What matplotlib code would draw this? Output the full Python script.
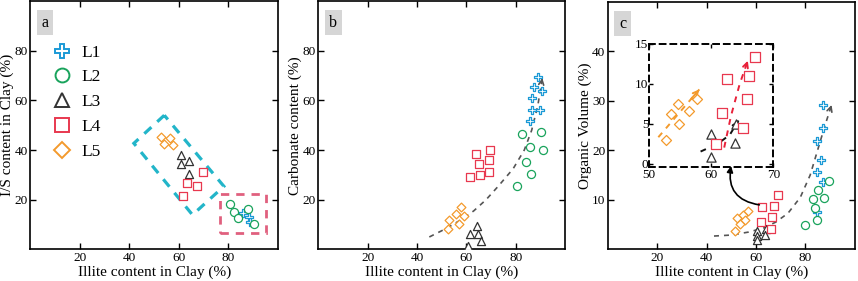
import matplotlib
matplotlib.use("Agg")
import matplotlib.pyplot as plt
from matplotlib.patches import Polygon, Rectangle
import numpy as np

plt.rcParams['font.family'] = ['Liberation Serif', 'DejaVu Serif']

# ---------------- data ----------------
groups = ["L1", "L2", "L3", "L4", "L5"]
colors = {"L1": "#1b9ad6", "L2": "#19a35c", "L3": "#333333", "L4": "#e8384f", "L5": "#f39a2c"}
markers = {"L1": "P", "L2": "o", "L3": "^", "L4": "s", "L5": "D"}
msize = {"L1": 40, "L2": 34, "L3": 34, "L4": 36, "L5": 20}

# Panel a: Illite (x) vs I/S (y)
a_L1_x = [85.8, 88.5, 88.8]
a_L1_y = [14.5, 13.0, 11.0]
a_L2_x = [80.6, 82.3, 84.0, 88.0, 90.4]
a_L2_y = [18.2, 15.2, 12.5, 16.4, 10.3]
a_L3_x = [60.8, 60.8, 64.2, 64.2]
a_L3_y = [38.0, 34.5, 35.5, 30.3]
a_L4_x = [69.7, 63.2, 67.3, 61.6]
a_L4_y = [31.2, 26.6, 25.4, 21.3]
a_L5_x = [52.7, 56.4, 54.1, 57.7]
a_L5_y = [45.2, 45.0, 42.3, 41.9]
a_box1_x = [54.1, 41.8, 65.5, 78.2]      # rotated dashed box corners
a_box1_y = [54.0, 42.7, 13.9, 25.4]
a_box2 = [76.8, 6.5, 95.4, 22.3]          # x0, y0, x1, y1

# Panel b: Illite (x) vs Carbonate (y)
b_L1_x = [88.9, 87.4, 90.7, 86.6, 86.7, 89.8, 85.7]
b_L1_y = [69.5, 65.5, 63.6, 61.0, 56.3, 56.3, 51.5]
b_L2_x = [82.6, 90.2, 85.7, 90.9, 84.0, 86.4, 80.6]
b_L2_y = [46.4, 47.2, 41.2, 40.0, 35.0, 30.2, 25.4]
b_L3_x = [64.2, 61.5, 64.8, 65.9, 60.8]
b_L3_y = [9.5, 6.0, 6.0, 3.5, 1.4]
b_L4_x = [63.8, 69.7, 65.0, 69.3, 65.4, 69.0, 61.6]
b_L4_y = [38.5, 40.2, 34.5, 35.8, 29.8, 31.3, 29.2]
b_L5_x = [57.7, 55.7, 59.0, 52.8, 56.9, 52.7]
b_L5_y = [17.2, 14.2, 13.4, 11.8, 10.4, 8.3]
b_trend_x = [45, 52, 58, 63, 68, 73, 79, 83.5, 86.5, 89, 90.8]
b_trend_y = [5, 8.5, 12, 15.5, 20, 25.5, 32.5, 40, 48, 58, 69]

# Panel c: Illite (x) vs Organic volume (y)
c_L1_x = [87.3, 87.1, 84.6, 86.4, 84.6, 87.1, 84.9]
c_L1_y = [29.2, 24.5, 22.0, 18.0, 15.7, 13.7, 7.6]
c_L2_x = [89.7, 85.3, 83.3, 87.6, 83.9, 84.9, 79.9]
c_L2_y = [13.8, 12.0, 10.1, 10.3, 8.3, 6.0, 4.9]
c_L3_x = [60.5, 64.1, 60.3, 63.7, 60.5]
c_L3_y = [3.7, 4.1, 2.7, 2.9, 1.9]
c_L4_x = [69.1, 62.3, 67.3, 66.6, 62.0, 66.0]
c_L4_y = [10.9, 8.5, 8.8, 6.6, 5.5, 4.1]
c_L5_x = [56.9, 54.6, 52.4, 55.6, 53.5, 51.4]
c_L5_y = [7.7, 7.0, 6.3, 6.0, 5.2, 3.8]
c_trend_x = [43, 50, 57, 63, 68, 73, 78, 82, 85, 88, 90.7]
c_trend_y = [2.7, 2.9, 3.5, 4.3, 5.5, 7.3, 10.5, 15, 20, 25, 29.2]

# Inset of panel c (zoom 50-70, 0-15)
i_L3_x = [59.9, 59.9, 63.8, 64.0]
i_L3_y = [3.7, 0.8, 2.6, 4.9]
i_L4_x = [62.5, 66.1, 67.0, 61.8, 65.8, 65.1, 60.7]
i_L4_y = [10.6, 11.0, 13.4, 6.4, 8.1, 4.4, 2.4]
i_L5_x = [52.7, 53.5, 54.6, 54.9, 56.4, 57.7]
i_L5_y = [2.9, 6.2, 7.5, 5.0, 6.6, 8.1]
i_orange_x = [51.5, 58.1]
i_orange_y = [3.3, 9.3]
i_red_x = [62.1, 63.2, 64.6, 65.9]
i_red_y = [2.0, 6.0, 10.0, 12.9]
i_black_x = [58.3, 61.1, 63.0, 64.4]
i_black_y = [1.5, 2.5, 3.6, 5.4]

data = {
    "a": {"L1": (a_L1_x, a_L1_y), "L2": (a_L2_x, a_L2_y), "L3": (a_L3_x, a_L3_y),
          "L4": (a_L4_x, a_L4_y), "L5": (a_L5_x, a_L5_y)},
    "b": {"L1": (b_L1_x, b_L1_y), "L2": (b_L2_x, b_L2_y), "L3": (b_L3_x, b_L3_y),
          "L4": (b_L4_x, b_L4_y), "L5": (b_L5_x, b_L5_y)},
    "c": {"L1": (c_L1_x, c_L1_y), "L2": (c_L2_x, c_L2_y), "L3": (c_L3_x, c_L3_y),
          "L4": (c_L4_x, c_L4_y), "L5": (c_L5_x, c_L5_y)},
}

# ---------------- figure ----------------
W, H = 858, 281
fig = plt.figure(figsize=(W / 100, H / 100), dpi=100)

def frac(l, r, t, b):
    return [l / W, 1 - b / H, (r - l) / W, (b - t) / H]

ax_a = fig.add_axes(frac(30.5, 277.8, 1, 249.4))
ax_b = fig.add_axes(frac(318.3, 565.0, 1, 249.4))
ax_c = fig.add_axes(frac(608.0, 854.5, 2, 249.4))

def style(ax, ylim, yticks, ylabel, letter):
    ax.set_xlim(0, 100)
    ax.set_ylim(*ylim)
    ax.set_xticks([20, 40, 60, 80])
    ax.set_yticks(yticks)
    ax.tick_params(direction="in", top=True, right=True, length=4, width=1,
                   labelsize=9.5, pad=2)
    for s in ax.spines.values():
        s.set_linewidth(1.2)
    ax.set_xlabel("Illite content in Clay (%)", fontsize=11, labelpad=1)
    ax.set_ylabel(ylabel, fontsize=11, labelpad=0)
    ax.text(0.045, 0.945, letter, transform=ax.transAxes, fontsize=11.5, va="top", ha="left",
            bbox=dict(boxstyle="square,pad=0.3", fc="#d6d6d6", ec="none"))

def scatter_all(ax, d):
    for g in groups:
        x, y = d[g]
        ax.scatter(x, y, s=msize[g], marker=markers[g], facecolors="white",
                   edgecolors=colors[g], linewidths=0.9, zorder=3, label=g)

def trend(ax, x, y, color="#555555", lw=1.2):
    ax.plot(x, y, ls=(0, (3, 3)), color=color, lw=lw, zorder=2)
    ax.annotate("", xy=(x[-1], y[-1]), xytext=(x[-2] + 0.8 * (x[-1] - x[-2]), y[-2] + 0.8 * (y[-1] - y[-2])),
                arrowprops=dict(arrowstyle="->", color=color, lw=lw, shrinkA=0, shrinkB=0,
                                mutation_scale=9), zorder=2)

# panel a
style(ax_a, (0, 100), [20, 40, 60, 80], "I/S content in Clay (%)", "a")
scatter_all(ax_a, data["a"])
ax_a.add_patch(Polygon(np.column_stack([a_box1_x, a_box1_y]), closed=True, fill=False,
                       ec="#22b5c9", lw=2.3, ls=(0, (3, 2.5)), zorder=2))
ax_a.add_patch(Rectangle((a_box2[0], a_box2[1]), a_box2[2] - a_box2[0], a_box2[3] - a_box2[1],
                         fill=False, ec="#e0607e", lw=2.0, ls=(0, (3, 2.5)), zorder=2))
leg_handles = [plt.Line2D([], [], ls="none", marker=markers[g], markersize=10 if g != "L5" else 8,
                          mfc="white", mec=colors[g], mew=1.4) for g in groups]
ax_a.legend(leg_handles, groups, loc="upper left", bbox_to_anchor=(0.05, 0.86), frameon=False,
            fontsize=12.5, labelspacing=0.5, handletextpad=0.55, handlelength=1.2, borderpad=0)

# panel b
style(ax_b, (0, 100), [20, 40, 60, 80], "Carbonate content (%)", "b")
scatter_all(ax_b, data["b"])
trend(ax_b, b_trend_x, b_trend_y)

# panel c
style(ax_c, (0, 50), [10, 20, 30, 40], "Organic Volume (%)", "c")
scatter_all(ax_c, data["c"])
trend(ax_c, c_trend_x, c_trend_y)

# inset
axin = fig.add_axes(frac(649, 773.3, 44, 166.7))
axin.set_facecolor("none")
axin.set_xlim(50, 70)
axin.set_ylim(-0.4, 15)
axin.set_xticks([50, 60, 70])
axin.set_yticks([0, 5, 10, 15])
axin.tick_params(direction="in", top=True, right=True, length=3, width=1, labelsize=9.5)
axin.tick_params(axis="x", pad=2)
axin.tick_params(axis="y", pad=0.5)
for s in axin.spines.values():
    s.set_linestyle((0, (3, 2.5)))
    s.set_linewidth(1.4)
for g, x, y in [("L3", i_L3_x, i_L3_y), ("L4", i_L4_x, i_L4_y), ("L5", i_L5_x, i_L5_y)]:
    axin.scatter(x, y, s=msize[g] * 1.3, marker=markers[g], facecolors="white",
                 edgecolors=colors[g], linewidths=0.9, zorder=3)
trend(axin, i_orange_x, i_orange_y, color="#f39a2c", lw=1.4)
trend(axin, i_red_x, i_red_y, color="#e8213a", lw=1.4)
trend(axin, i_black_x, i_black_y, color="#111111", lw=1.4)

# curved arrow from main plot cluster into inset
ax_c.annotate("", xy=(63.2, -0.3), xycoords=axin.transData, xytext=(61.4, 9.0), textcoords="data",
              arrowprops=dict(arrowstyle="-|>", color="black", lw=1.2,
                              connectionstyle="arc3,rad=-0.5", mutation_scale=9,
                              shrinkA=0, shrinkB=0))

fig.savefig("out.png", dpi=100)
